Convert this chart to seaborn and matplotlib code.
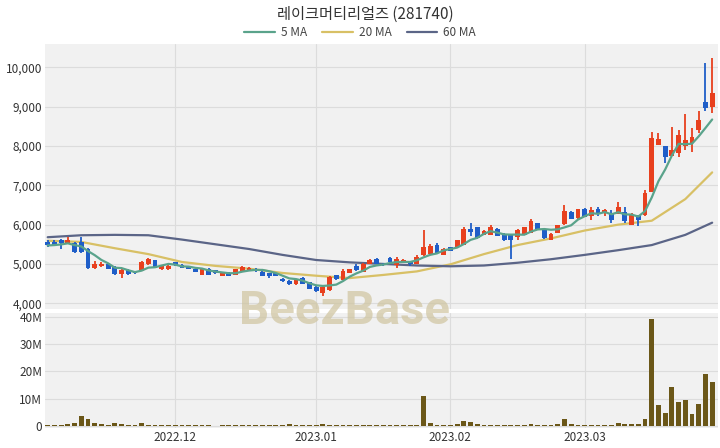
import matplotlib
matplotlib.use("Agg")
import matplotlib.pyplot as plt
import numpy as np
import pandas as pd
import seaborn as sns

# trading days on the chart (KRX, holidays removed)
holidays = ["2022-12-30", "2023-01-23", "2023-01-24", "2023-03-01"]
dates = pd.bdate_range("2022-11-04", "2023-03-29")
dates = dates[~dates.isin(pd.to_datetime(holidays))]

opens = [5570, 5570, 5610, 5510, 5530, 5550, 5380, 4900, 4960, 4990,
         4930, 4740, 4850, 4800, 4820, 4990, 5100, 4860, 4860, 5050,
         4970, 4930, 4870, 4730, 4870, 4840, 4700, 4780, 4730, 4820,
         4840, 4870, 4800, 4760, 4760, 4620, 4560, 4480, 4640, 4530,
         4420, 4250, 4330, 4710, 4600, 4780, 4950, 4800, 5010, 5130,
         5010, 5150, 4970, 5040, 5050, 5010, 5220, 5250, 5480, 5240,
         5420, 5420, 5480, 5880, 5930, 5740, 5740, 5900, 5770, 5730,
         5690, 5740, 5800, 6030, 5860, 5620, 5800, 6010, 6330, 6160,
         6410, 6220, 6390, 6290, 6300, 6270, 6330, 5990, 6240, 6240,
         6840, 8030, 8000, 7750, 7820, 7990, 8090, 8410, 9130, 8990]
highs = [5600, 5620, 5630, 5680, 5560, 5680, 5400, 5080, 5060, 5000,
         4940, 4870, 4860, 4820, 5070, 5150, 5110, 4980, 4980, 5060,
         4990, 4940, 4880, 4880, 4890, 4850, 4780, 4790, 4880, 4940,
         4910, 4900, 4810, 4770, 4770, 4630, 4590, 4620, 4660, 4550,
         4430, 4440, 4700, 4730, 4860, 4870, 4990, 5020, 5130, 5140,
         5020, 5170, 5180, 5120, 5060, 5220, 5860, 5510, 5540, 5400,
         5440, 5620, 5930, 6050, 5940, 5860, 6000, 5920, 5780, 5750,
         5900, 5950, 6140, 6040, 5870, 5780, 6000, 6500, 6340, 6400,
         6420, 6460, 6450, 6410, 6360, 6580, 6460, 6300, 6250, 6880,
         8370, 8320, 8010, 8480, 8410, 8810, 8450, 8880, 10110, 10240]
lows = [5420, 5470, 5380, 5500, 5280, 5280, 4880, 4870, 4920, 4860,
        4730, 4650, 4730, 4750, 4810, 4980, 4890, 4850, 4850, 4960,
        4890, 4860, 4790, 4720, 4720, 4750, 4690, 4690, 4720, 4810,
        4830, 4800, 4690, 4650, 4690, 4550, 4470, 4470, 4490, 4350,
        4280, 4180, 4300, 4600, 4590, 4770, 4830, 4790, 5000, 5000,
        4960, 5030, 4900, 5030, 4950, 5000, 5210, 5240, 5280, 5220,
        5320, 5410, 5470, 5710, 5640, 5730, 5730, 5700, 5590, 5130,
        5600, 5730, 5790, 5870, 5630, 5600, 5790, 6000, 6140, 6150,
        6190, 6120, 6220, 6220, 6050, 6260, 6050, 5980, 5960, 6230,
        6830, 8020, 7560, 7740, 7730, 7900, 7860, 8340, 8880, 8840]
closes = [5470, 5490, 5530, 5610, 5300, 5300, 4900, 5010, 5000, 4870,
          4740, 4850, 4740, 4760, 5060, 5120, 4900, 4960, 4960, 4970,
          4900, 4870, 4800, 4870, 4730, 4760, 4760, 4700, 4870, 4930,
          4900, 4840, 4700, 4700, 4700, 4560, 4500, 4610, 4500, 4370,
          4300, 4420, 4670, 4610, 4820, 4860, 4840, 5010, 5090, 5010,
          4970, 5040, 5130, 5110, 5000, 5180, 5420, 5450, 5290, 5390,
          5340, 5610, 5900, 5820, 5650, 5850, 5950, 5710, 5600, 5620,
          5860, 5930, 6100, 5880, 5670, 5770, 5990, 6340, 6150, 6390,
          6200, 6370, 6270, 6370, 6110, 6460, 6100, 6240, 6120, 6800,
          8200, 8170, 7730, 7900, 8280, 8160, 8230, 8670, 8960, 9360]
volume_m = [0.3, 0.3, 0.4, 0.6, 1.2, 3.8, 2.6, 1.1, 0.7, 0.5,
            0.9, 0.6, 0.3, 0.3, 0.9, 0.5, 0.3, 0.2, 0.2, 0.3,
            0.2, 0.2, 0.3, 0.2, 0.2, 0.1, 0.2, 0.3, 0.2, 0.2,
            0.2, 0.3, 0.2, 0.2, 0.5, 0.3, 0.6, 0.3, 0.2, 0.5,
            0.3, 0.6, 0.5, 0.2, 0.3, 0.2, 0.5, 0.4, 0.2, 0.2,
            0.2, 0.4, 0.3, 0.2, 0.2, 0.4, 11.1, 1.0, 0.3, 0.3,
            0.3, 0.6, 1.9, 1.6, 0.8, 0.4, 0.4, 0.3, 0.4, 0.4,
            0.3, 0.3, 0.7, 0.3, 0.3, 0.3, 0.7, 2.4, 0.6, 0.5,
            0.5, 0.5, 0.3, 0.3, 0.2, 1.0, 0.6, 0.6, 0.7, 2.4,
            39.0, 7.8, 4.9, 14.4, 8.7, 9.5, 4.5, 8.2, 19.0, 15.9]

# 20 / 60 day averages read every 5th session
ma_idx = [0, 5, 10, 15, 20, 25, 30, 35, 40, 45, 50, 55, 60, 65, 70, 75, 80, 85, 90, 95, 99]
ma20 = [5590, 5560, 5400, 5250, 5050, 4950, 4880, 4770, 4700, 4640, 4720,
        4810, 4990, 5250, 5480, 5650, 5850, 6000, 6100, 6650, 7330]
ma60 = [5680, 5730, 5740, 5730, 5620, 5500, 5380, 5230, 5100, 5040, 5000,
        4960, 4940, 4960, 5030, 5120, 5230, 5350, 5480, 5740, 6050]

month_labels = ["2022.12", "2023.01", "2023.02", "2023.03"]

df = pd.DataFrame({"date": dates, "open": opens, "high": highs, "low": lows,
                   "close": closes, "volume": np.array(volume_m) * 1e6})
df["x"] = np.arange(len(df))
df["ma5"] = df["close"].rolling(5, min_periods=1).mean()
up = df["close"] >= df["open"]

sns.set_theme(style="whitegrid")
plt.rcParams["font.family"] = ["Noto Sans CJK KR", "DejaVu Sans"]

RED = "#e8401e"
BLUE = "#1f5ec8"
BG = "#f1f1f1"
GRID = "#dcdcdc"

fig = plt.figure(figsize=(7.2, 4.48), dpi=100)
ax = fig.add_axes([0.0625, 0.31, 0.935, 0.592])
axv = fig.add_axes([0.0625, 0.045, 0.935, 0.257])

colors = np.where(up, RED, BLUE)
ax.vlines(df["x"], df["low"], df["high"], color=colors, lw=1.3, zorder=3)
ax.bar(df["x"], (df["close"] - df["open"]).abs().clip(lower=20),
       bottom=np.minimum(df["open"], df["close"]), width=0.72,
       color=colors, edgecolor="none", linewidth=0, zorder=3)

sns.lineplot(x=df["x"], y=df["ma5"], ax=ax, color="#5aa38b", lw=1.6,
             label="5 MA", zorder=4)
sns.lineplot(x=ma_idx, y=ma20, ax=ax, color="#d8c065", lw=1.6,
             label="20 MA", zorder=2)
sns.lineplot(x=ma_idx, y=ma60, ax=ax, color="#5b6587", lw=1.6,
             label="60 MA", zorder=2)

axv.bar(df["x"], df["volume"], width=0.72, color="#6b5718",
        edgecolor="none", linewidth=0, zorder=3)

# month ticks on the first trading day of each month
first_days = df.groupby(df["date"].dt.to_period("M"))["x"].min().iloc[1:].values

for a in (ax, axv):
    a.set_facecolor(BG)
    a.set_xlim(-0.4, 99.9)
    a.set_xticks(first_days)
    a.grid(True, color=GRID, lw=0.8)
    a.set_xlabel("")
    a.set_ylabel("")
    for s in a.spines.values():
        s.set_visible(False)
    a.tick_params(length=0, labelsize=8.5, labelcolor="#333333", pad=2)

ax.set_xticklabels([])
axv.set_xticklabels(month_labels)

ax.set_ylim(3850, 10600)
ax.set_yticks([4000, 5000, 6000, 7000, 8000, 9000, 10000])
ax.set_yticklabels([f"{v:,}" for v in ax.get_yticks().astype(int)])

axv.set_ylim(-0.7e6, 41.4e6)
axv.set_yticks([0, 10e6, 20e6, 30e6, 40e6])
axv.set_yticklabels(["0", "10M", "20M", "30M", "40M"])

handles, labels = ax.get_legend_handles_labels()
ax.get_legend().remove()
fig.legend(handles, labels, loc="center", bbox_to_anchor=(0.5, 0.928), ncol=3,
           frameon=False, fontsize=8.5, handlelength=2.6, columnspacing=1.3,
           handletextpad=0.5, labelcolor="#444444")

fig.text(0.508, 0.968, "레이크머티리얼즈 (281740)", ha="center", va="center",
         fontsize=11, color="#333333")

fig.text(0.479, 0.305, "BeezBase", ha="center", va="center", fontsize=34,
         fontweight="bold", color="#cfc49f", alpha=0.7,
         family=["Roboto", "DejaVu Sans"])

fig.savefig("out.png", dpi=100)
